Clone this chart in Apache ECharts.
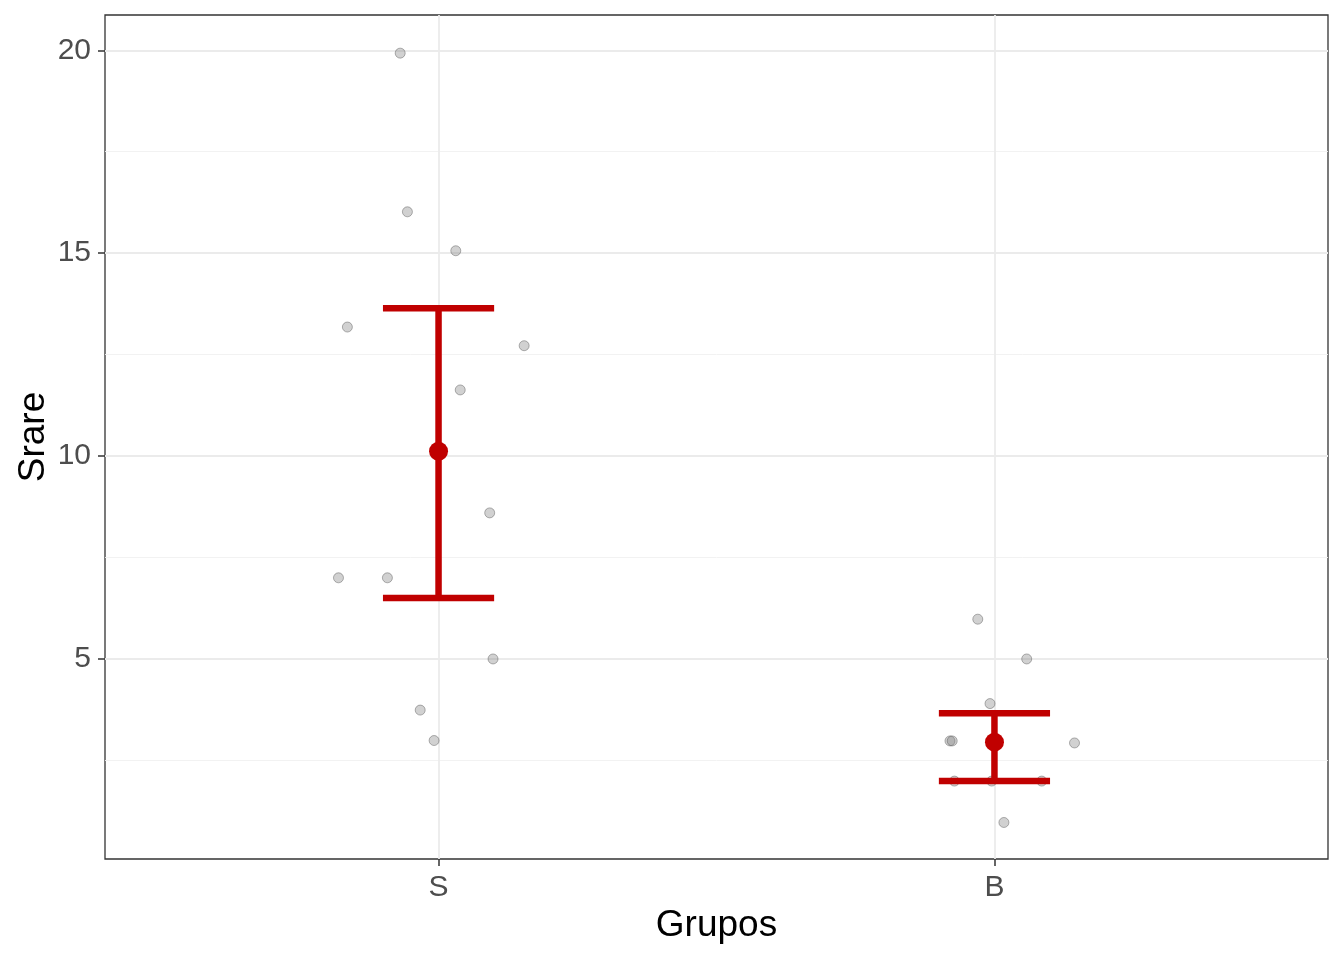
<!DOCTYPE html>
<html>
<head>
<meta charset="utf-8">
<script src="https://cdn.jsdelivr.net/npm/echarts@6/dist/echarts.min.js"></script>
<style>html,body{margin:0;padding:0;background:#fff;}#c{width:1344px;height:960px;}</style>
</head>
<body>
<div id="c"></div>
<script>
// ---- data ----
const groups = ['S', 'B'];
const groupPos = [1, 2];
const sJitter = [-0.069, -0.056, 0.031, -0.164, 0.154, 0.039, 0.092, -0.180, -0.092, 0.098, -0.033, -0.008];
const sValues = [19.93, 16.02, 15.06, 13.18, 12.72, 11.63, 8.60, 7.00, 7.00, 5.00, 3.74, 2.99];
const bJitter = [-0.030, 0.058, -0.008, -0.080, -0.076, 0.144, -0.072, -0.005, 0.085, 0.017];
const bValues = [5.98, 5.00, 3.90, 2.98, 2.98, 2.93, 1.99, 1.99, 1.99, 0.97];
const means = [10.12, 2.95];
const lowers = [6.50, 1.99];
const uppers = [13.64, 3.66];
const yTicks = [5, 10, 15, 20];
const yMinor = [2.5, 7.5, 12.5, 17.5];

const font = 'Liberation Sans, Arial, sans-serif';
const jitterPts = [];
sValues.forEach((v, i) => jitterPts.push([groupPos[0] + sJitter[i], v]));
bValues.forEach((v, i) => jitterPts.push([groupPos[1] + bJitter[i], v]));
const meanPts = means.map((m, i) => [groupPos[i], m]);
const barData = means.map((m, i) => [groupPos[i], lowers[i], uppers[i]]);

const gridLines = [];
yMinor.forEach(v => gridLines.push({ yAxis: v, lineStyle: { color: '#f0f0f0', width: 0.9, type: 'solid' } }));
yTicks.forEach(v => gridLines.push({ yAxis: v, lineStyle: { color: '#ebebeb', width: 1.8, type: 'solid' } }));
groupPos.forEach(v => gridLines.push({ xAxis: v, lineStyle: { color: '#ebebeb', width: 1.8, type: 'solid' } }));

const chart = echarts.init(document.getElementById('c'), null, { renderer: 'canvas' });
chart.setOption({
  animation: false,
  backgroundColor: '#fff',
  grid: { left: 105, top: 15, right: 16, bottom: 101, show: true, borderColor: '#333', borderWidth: 1.3, backgroundColor: '#fff' },
  xAxis: {
    type: 'value', min: 0.4, max: 2.6,
    name: 'Grupos', nameLocation: 'middle', nameGap: 48, nameMoveOverlap: false,
    nameTextStyle: { fontFamily: font, fontSize: 37, color: '#000' },
    axisLine: { show: false },
    axisTick: { show: true, length: 7, lineStyle: { color: '#333', width: 1.5 }, customValues: groupPos },
    axisLabel: { fontFamily: font, fontSize: 30, color: '#4d4d4d', margin: 14, customValues: groupPos,
      formatter: v => { const i = groupPos.indexOf(Math.round(v)); return i >= 0 ? groups[i] : ''; } },
    splitLine: { show: false }
  },
  yAxis: {
    type: 'value', min: 0.07, max: 20.87,
    name: 'Srare', nameLocation: 'middle', nameGap: 53, nameRotate: 90, nameMoveOverlap: false,
    nameTextStyle: { fontFamily: font, fontSize: 37, color: '#000' },
    axisLine: { show: false },
    axisTick: { show: true, length: 7, lineStyle: { color: '#333', width: 1.5 }, customValues: yTicks },
    axisLabel: { fontFamily: font, fontSize: 30, color: '#4d4d4d', margin: 14, customValues: yTicks },
    splitLine: { show: false }
  },
  series: [
    {
      type: 'scatter', data: [], silent: true, z: 1,
      markLine: { silent: true, symbol: 'none', label: { show: false }, animation: false, z: 1, data: gridLines }
    },
    {
      type: 'scatter', data: jitterPts, symbolSize: 10, silent: true, z: 5,
      itemStyle: { color: 'rgba(128,128,128,0.45)', borderColor: 'rgba(70,70,70,0.5)', borderWidth: 1 }
    },
    {
      type: 'custom', data: barData, silent: true, z: 6,
      renderItem: (params, api) => {
        const x = api.value(0), lo = api.value(1), hi = api.value(2);
        const pLo = api.coord([x, lo]), pHi = api.coord([x, hi]);
        const half = api.size([0.1, 0])[0];
        const st = { stroke: '#c00000', lineWidth: 6.5, lineCap: 'butt' };
        return { type: 'group', children: [
          { type: 'line', shape: { x1: pLo[0], y1: pLo[1], x2: pHi[0], y2: pHi[1] }, style: st },
          { type: 'line', shape: { x1: pHi[0] - half, y1: pHi[1], x2: pHi[0] + half, y2: pHi[1] }, style: st },
          { type: 'line', shape: { x1: pLo[0] - half, y1: pLo[1], x2: pLo[0] + half, y2: pLo[1] }, style: st }
        ] };
      }
    },
    {
      type: 'scatter', data: meanPts, symbolSize: 19, silent: true, z: 7,
      itemStyle: { color: '#c00000', opacity: 1 }
    }
  ]
});
</script>
</body>
</html>
